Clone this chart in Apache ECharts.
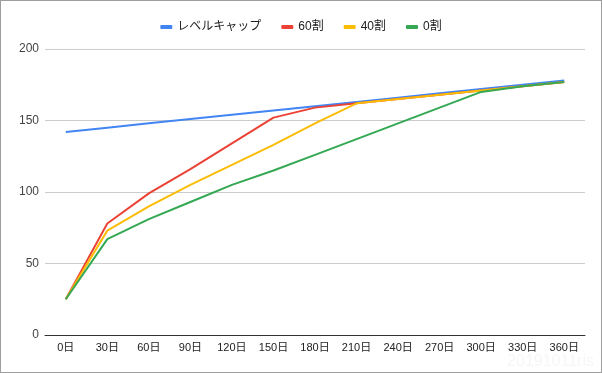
<!DOCTYPE html>
<html>
<head>
<meta charset="utf-8">
<script src="https://cdn.jsdelivr.net/npm/echarts@6/dist/echarts.min.js"></script>
<style>
html,body{margin:0;padding:0;background:#fff;}
#wrap{width:602px;height:373px;box-sizing:border-box;border:1px solid #9e9e9e;position:relative;}
#chart{position:absolute;left:-1px;top:-1px;width:602px;height:373px;}
</style>
</head>
<body>
<div id="wrap"><div id="chart"></div></div>
<script>
const categories = ['0日','30日','60日','90日','120日','150日','180日','210日','240日','270日','300日','330日','360日'];
const levelCap = [142,145,148,151,154,157,160,163,166,169,172,175,178];
const s60 = [25,78,99,116,134,152,159,162,165,168,171,174,177];
const s40 = [25,73,90,105,119,133,148,162,165,168,171,174,177];
const s0  = [25,67,81,93,105,115,126,137,148,159,170,174,177];
const seriesNames = ['レベルキャップ','60割','40割','0割'];
const colors = ['#4285f4','#ea4335','#fbbc04','#34a853'];
const yTicks = {min:0, max:200, interval:50};

const font = '"Liberation Sans", Arial, "Noto Sans CJK JP", sans-serif';
const chart = echarts.init(document.getElementById('chart'), null, {renderer:'canvas'});
const dataSets = [levelCap, s60, s40, s0];
chart.setOption({
  animation:false,
  color:colors,
  textStyle:{fontFamily:font},
  legend:{
    top:16, left:'center',
    icon:'roundRect', itemWidth:12, itemHeight:4, itemGap:20,
    textStyle:{fontSize:12, color:'#222', fontFamily:font},
    data:seriesNames
  },
  grid:{left:45, right:17, top:49, bottom:38},
  xAxis:{
    type:'category', data:categories, boundaryGap:true,
    axisLine:{lineStyle:{color:'#333', width:1}},
    axisTick:{show:false},
    axisLabel:{color:'#222', fontSize:11, margin:7, interval:0, fontFamily:font}
  },
  yAxis:{
    type:'value', min:yTicks.min, max:yTicks.max, interval:yTicks.interval,
    axisLine:{show:false}, axisTick:{show:false},
    axisLabel:{color:'#444', fontSize:12, margin:6, fontFamily:font},
    splitLine:{lineStyle:{color:'#cccccc', width:1}}
  },
  series: seriesNames.map((n,i)=>({
    name:n, type:'line', data:dataSets[i], showSymbol:false, symbol:'none',
    lineStyle:{width:2, color:colors[i]}, itemStyle:{color:colors[i]}
  })),
  graphic:[{
    type:'text', right:8, bottom:3,
    style:{text:'20191011ris', fontSize:16, fill:'#f6f6f6', fontFamily:font}
  }]
});
</script>
</body>
</html>
